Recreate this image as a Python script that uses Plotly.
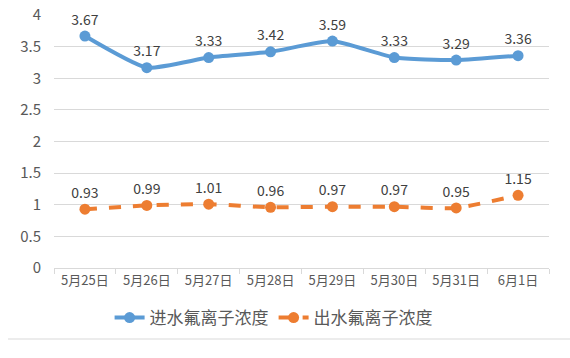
import plotly.graph_objects as go

categories = ["5月25日", "5月26日", "5月27日", "5月28日", "5月29日", "5月30日", "5月31日", "6月1日"]
inflow = [3.67, 3.17, 3.33, 3.42, 3.59, 3.33, 3.29, 3.36]
outflow = [0.93, 0.99, 1.01, 0.96, 0.97, 0.97, 0.95, 1.15]
series_names = ["进水氟离子浓度", "出水氟离子浓度"]
y_ticks = [0, 0.5, 1, 1.5, 2, 2.5, 3, 3.5, 4]
y_tick_text = ["0", "0.5", "1", "1.5", "2", "2.5", "3", "3.5", "4"]

FONT = "Noto Sans CJK SC"
W, H = 570, 358
L, R, T, B = 54, 21, 15, 90
fig = go.Figure()
fig.add_trace(go.Scatter(
    x=categories, y=inflow, name=series_names[0], mode="lines+markers+text",
    line=dict(color="#5B9BD5", width=4, shape="spline", smoothing=0.5),
    marker=dict(size=11, color="#5B9BD5"),
    text=[f"{v:.2f}" for v in inflow], textposition="top center",
    textfont=dict(family=FONT, size=14, color="#404040"),
    cliponaxis=False,
))
fig.add_trace(go.Scatter(
    x=categories, y=outflow, name=series_names[1], mode="lines+markers+text",
    line=dict(color="#ED7D31", width=4, dash="dash", shape="spline", smoothing=0.5),
    marker=dict(size=11, color="#ED7D31"),
    text=[f"{v:.2f}" for v in outflow], textposition="top center",
    textfont=dict(family=FONT, size=14, color="#404040"),
    cliponaxis=False,
))
pw, ph = W - L - R, H - T - B
fig.add_shape(type="line", xref="paper", yref="paper",
              x0=(8 - L) / pw, x1=(W - L) / pw,
              y0=(ph - (339 - T)) / ph, y1=(ph - (339 - T)) / ph,
              line=dict(color="#D9D9D9", width=1))
fig.update_layout(
    width=W, height=H,
    margin=dict(l=L, r=R, t=T, b=B, autoexpand=False),
    paper_bgcolor="white", plot_bgcolor="white",
    font=dict(family=FONT, color="#595959"),
    legend=dict(orientation="h", x=0.48, xanchor="center", xref="container",
                y=1 - 318 / 358, yanchor="middle", yref="container",
                font=dict(size=17, color="#595959", family=FONT),
                itemwidth=30, tracegroupgap=0),
    showlegend=True,
)
fig.update_xaxes(
    type="category", range=[-0.5, 7.5], tickson="boundaries",
    ticks="outside", ticklen=5, tickcolor="#D9D9D9",
    showline=True, linecolor="#D9D9D9", linewidth=1, showgrid=False,
    tickfont=dict(size=13, color="#595959", family=FONT),
)
fig.update_yaxes(
    range=[0, 4.003], tickmode="array", tickvals=y_ticks, ticktext=y_tick_text,
    showgrid=True, gridcolor="#D9D9D9", gridwidth=1,
    zeroline=False, showline=False, ticks="", ticklabelstandoff=12,
    ticklabeloverflow="allow",
    tickfont=dict(size=15, color="#595959", family=FONT),
)
fig.write_html("out.html", config={"displayModeBar": False},
               post_script="document.body.style.margin='0';document.body.style.overflow='hidden';")
